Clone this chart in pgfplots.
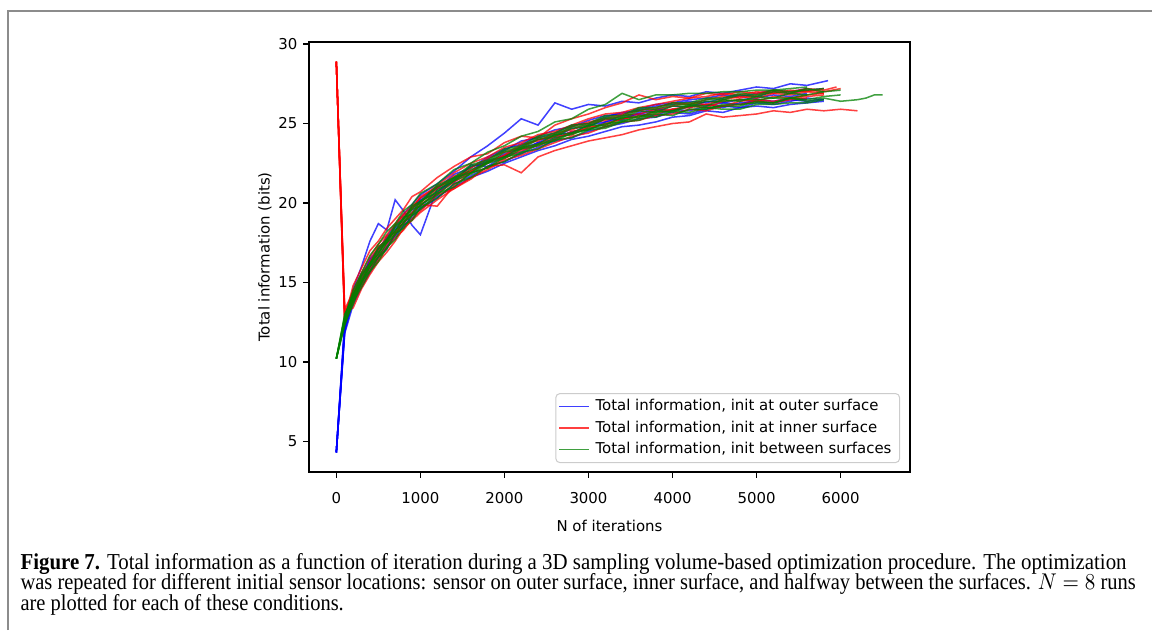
\documentclass[border=0pt]{standalone}
\usepackage{fontspec}
\setmainfont{Liberation Serif}
\newfontfamily\djv{DejaVu Sans}
\usepackage{graphicx}
\usepackage{pgfplots}
\pgfplotsset{compat=1.18}
\definecolor{mblue}{rgb}{0,0,1}
\definecolor{mred}{rgb}{1,0,0}
\definecolor{mgreen}{rgb}{0,0.5,0}
\definecolor{framegray}{gray}{0.55}

\begin{document}
\begin{tikzpicture}
\useasboundingbox (0,0) rectangle (16cm,8.75cm);
\draw[framegray, line width=0.8pt] (0.111,0) -- (0.111,8.597) -- (16,8.597);

\begin{axis}[
  at={(4.2917cm,2.1944cm)}, anchor=south west,
  scale only axis, width=8.347cm, height=5.972cm,
  xmin=-325, xmax=6825, ymin=3.07, ymax=30.13,
  xtick={0,1000,...,6000}, ytick={5,10,...,30},
  tick align=outside, xtick pos=bottom, ytick pos=left,
  major tick length=0.08cm,
  axis line style={line width=0.6pt},
  every tick/.style={black, line width=0.5pt},
  ticklabel style={font=\djv\fontsize{5.9}{7}\selectfont},
  xticklabel style={yshift=-2.2pt},
  yticklabel style={xshift=1.2pt},
  /pgf/number format/assume math mode=true,
  /pgf/number format/set thousands separator={},
  xlabel={N of iterations}, ylabel={Total information (bits)},
  label style={font=\djv\fontsize{5.9}{7}\selectfont},
  xlabel style={at={(axis description cs:0.5,-0.1256)}, anchor=center},
  ylabel style={at={(axis description cs:-0.0732,0.5)}, anchor=center},
  every axis plot/.append style={line width=0.6pt, opacity=0.75},
  legend cell align=left,
  legend image code/.code={\draw[#1] (0cm,0cm) -- (0.417cm,0cm);},
  legend style={at={(0.9834,0.0209)}, anchor=south east,
    draw=black!20, rounded corners=1.5pt, fill=white, fill opacity=0.8, text opacity=1,
    font=\djv\fontsize{5.9}{7}\selectfont, inner sep=1pt, row sep=0.3pt,
    nodes={inner xsep=2.2pt, inner ysep=1pt, text height=4.8pt, text depth=1.4pt}},
]
% init at outer surface
\addplot[mblue] coordinates {(0,4.3)(100,12.2)(200,14.6)(300,16.0)(400,17.6)(500,18.7)(600,18.3)(700,20.2)(800,19.5)(900,18.6)(1000,18.0)(1200,20.9)(1400,21.3)(1600,22.4)(1800,22.3)(2000,23.0)(2200,23.2)(2400,23.8)(2600,24.0)(2800,24.5)(3000,24.6)(3200,25.1)(3400,25.3)(3600,25.6)(3800,25.5)(4000,25.9)(4200,25.8)(4400,26.1)(4600,26.3)(4800,26.2)(5000,26.5)(5200,26.4)(5400,26.6)(5600,26.5)};
\addlegendentry{Total information, init at outer surface}
\addplot[mblue, forget plot] coordinates {(0,4.3)(100,12.0)(200,14.3)(300,15.4)(400,16.4)(500,17.0)(600,17.9)(700,18.6)(800,19.3)(900,19.9)(1000,20.5)(1200,21.2)(1400,22.0)(1600,22.9)(1800,23.6)(2000,24.4)(2200,25.3)(2400,24.9)(2600,26.3)(2800,25.9)(3000,26.2)(3200,26.1)(3400,26.4)(3600,26.3)(3800,26.6)(4000,26.8)(4200,26.7)(4400,27.0)(4600,26.9)(4800,27.1)(5000,27.3)(5200,27.2)(5400,27.5)(5600,27.4)(5850,27.7)};
\addplot[mblue, forget plot] coordinates {(0,4.3)(100,11.8)(200,13.6)(300,14.7)(400,15.6)(500,16.5)(600,17.1)(700,18.0)(800,18.5)(900,19.2)(1000,19.6)(1200,20.3)(1400,21.2)(1600,21.7)(1800,22.3)(2000,22.6)(2200,23.1)(2400,23.5)(2600,23.9)(2800,24.1)(3000,24.5)(3200,24.8)(3400,25.0)(3600,25.3)(3800,25.4)(4000,25.7)(4200,25.6)(4400,25.9)(4600,26.1)(4800,26.0)(5000,26.3)(5200,26.2)(5400,26.4)(5600,26.6)(5800,26.5)};
\addplot[mblue, forget plot] coordinates {(0,4.3)(100,12.4)(200,14.0)(300,15.3)(400,16.3)(500,16.8)(600,17.8)(700,18.2)(800,19.1)(900,19.6)(1000,20.3)(1200,20.9)(1400,21.8)(1600,22.2)(1800,22.9)(2000,23.4)(2200,23.7)(2400,24.2)(2600,24.6)(2800,24.8)(3000,25.2)(3200,25.5)(3400,25.6)(3600,25.9)(3800,26.2)(4000,26.3)(4200,26.5)(4400,26.6)(4600,26.8)(4800,26.7)(5000,26.9)(5200,27.1)(5400,27.0)(5600,27.2)};
\addplot[mblue, forget plot] coordinates {(0,4.3)(100,12.1)(200,13.8)(300,14.9)(400,15.8)(500,16.6)(600,17.2)(700,17.9)(800,18.6)(900,19.0)(1000,19.7)(1200,20.4)(1400,21.0)(1600,21.6)(1800,22.0)(2000,22.5)(2200,22.9)(2400,23.3)(2600,23.6)(2800,24.0)(3000,24.2)(3200,24.5)(3400,24.8)(3600,24.9)(3800,25.1)(4000,25.4)(4200,25.5)(4400,25.8)(4600,25.7)(4800,26.0)(5000,26.1)(5200,26.0)(5400,26.2)(5600,26.3)(5800,26.4)};
\addplot[mblue, forget plot] coordinates {(0,4.3)(100,12.6)(200,14.4)(300,15.6)(400,16.2)(500,17.2)(600,17.7)(700,18.5)(800,19.0)(900,19.8)(1000,20.1)(1200,21.0)(1400,21.6)(1600,22.0)(1800,22.8)(2000,23.3)(2200,23.9)(2400,24.1)(2600,24.4)(2800,24.9)(3000,25.0)(3200,25.4)(3400,25.7)(3600,25.8)(3800,26.1)(4000,26.2)(4200,26.4)(4400,26.3)(4600,26.6)(4800,26.8)(5000,26.7)(5200,27.0)(5400,26.9)(5600,27.1)(5800,27.2)};
\addplot[mblue, forget plot] coordinates {(0,4.3)(100,11.9)(200,13.9)(300,15.0)(400,15.9)(500,16.7)(600,17.3)(700,18.1)(800,18.8)(900,19.3)(1000,19.8)(1200,20.7)(1400,21.4)(1600,22.3)(1800,22.5)(2000,23.1)(2200,23.4)(2400,23.8)(2600,24.3)(2800,24.4)(3000,24.9)(3200,25.1)(3400,25.5)(3600,25.6)(3800,25.8)(4000,26.1)(4200,26.0)(4400,26.4)(4600,26.3)(4800,26.5)(5000,26.6)(5200,26.8)(5400,26.7)(5600,26.9)};
\addplot[mblue, forget plot] coordinates {(0,4.3)(100,12.3)(200,14.2)(300,15.1)(400,16.5)(500,17.1)(600,17.5)(700,18.4)(800,18.7)(900,19.4)(1000,20.2)(1200,20.6)(1400,21.5)(1600,21.9)(1800,22.7)(2000,22.9)(2200,23.6)(2400,24.0)(2600,24.1)(2800,24.7)(3000,24.8)(3200,25.3)(3400,25.2)(3600,25.7)(3800,25.9)(4000,25.8)(4200,26.1)(4400,26.2)(4600,26.0)(4800,26.3)(5000,26.4)(5200,26.3)(5400,26.5)(5600,26.4)(5800,26.5)};
% init at inner surface
\addplot[mred] coordinates {(0,28.9)(100,13.1)(200,13.4)(300,14.6)(400,15.5)(500,16.3)(600,16.9)(700,17.6)(800,18.4)(900,18.9)(1000,19.4)(1200,20.2)(1400,20.9)(1600,21.5)(1800,22.3)(2000,22.4)(2200,21.9)(2400,22.9)(2600,23.3)(2800,23.6)(3000,23.9)(3200,24.1)(3400,24.3)(3600,24.6)(3800,24.8)(4000,25.0)(4200,25.1)(4400,25.6)(4600,25.4)(4800,25.5)(5000,25.6)(5200,25.8)(5400,25.7)(5600,25.9)(5800,25.8)(6000,25.9)(6200,25.8)};
\addlegendentry{Total information, init at inner surface}
\addplot[mred, forget plot] coordinates {(0,28.9)(100,12.8)(200,14.8)(300,15.9)(400,17.0)(500,17.6)(600,18.4)(700,19.0)(800,19.6)(900,20.4)(1000,20.7)(1200,21.6)(1400,22.3)(1600,22.9)(1800,23.1)(2000,23.8)(2200,24.2)(2400,24.1)(2600,24.9)(2800,25.3)(3000,25.6)(3200,26.0)(3400,26.3)(3600,26.8)(3800,26.5)(4000,26.7)(4200,26.6)(4400,26.9)(4600,26.8)(4800,27.0)(5000,26.9)(5200,27.1)(5400,27.0)(5600,27.2)(5800,27.1)(5950,27.3)};
\addplot[mred, forget plot] coordinates {(0,28.9)(100,12.5)(200,13.9)(300,15.3)(400,16.0)(500,16.8)(600,17.7)(700,18.1)(800,18.7)(900,19.3)(1000,19.9)(1200,19.8)(1400,21.1)(1600,21.9)(1800,22.2)(2000,22.8)(2200,23.3)(2400,23.6)(2600,24.0)(2800,24.5)(3000,24.7)(3200,25.0)(3400,25.3)(3600,25.4)(3800,25.8)(4000,25.9)(4200,26.1)(4400,26.0)(4600,26.4)(4800,26.5)(5000,26.4)(5200,26.7)(5400,26.6)(5600,26.8)(5800,26.9)};
\addplot[mred, forget plot] coordinates {(0,28.9)(100,13.3)(200,14.4)(300,15.0)(400,16.3)(500,17.3)(600,17.5)(700,18.6)(800,19.2)(900,19.6)(1000,20.4)(1200,21.0)(1400,21.4)(1600,22.2)(1800,22.8)(2000,23.2)(2200,23.5)(2400,24.0)(2600,24.2)(2800,24.8)(3000,25.1)(3200,25.3)(3400,25.6)(3600,25.8)(3800,26.0)(4000,26.3)(4200,26.2)(4400,26.5)(4600,26.7)(4800,26.6)(5000,26.8)(5200,27.0)(5400,26.9)(5600,27.1)(5800,27.0)(6000,27.2)};
\addplot[mred, forget plot] coordinates {(0,28.9)(100,12.7)(200,13.7)(300,14.8)(400,15.7)(500,16.4)(600,17.2)(700,17.8)(800,18.3)(900,19.0)(1000,19.5)(1200,20.5)(1400,20.9)(1600,21.6)(1800,22.1)(2000,22.7)(2200,23.0)(2400,23.4)(2600,23.8)(2800,24.2)(3000,24.4)(3200,24.8)(3400,25.1)(3600,25.2)(3800,25.5)(4000,25.6)(4200,25.9)(4400,25.8)(4600,26.1)(4800,26.2)(5000,26.4)(5200,26.3)(5400,26.5)(5600,26.6)};
\addplot[mred, forget plot] coordinates {(0,28.9)(100,12.9)(200,14.2)(300,15.5)(400,16.2)(500,17.0)(600,17.9)(700,18.2)(800,19.0)(900,19.7)(1000,20.0)(1200,20.9)(1400,21.7)(1600,22.0)(1800,22.6)(2000,23.0)(2200,23.7)(2400,23.9)(2600,24.4)(2800,24.6)(3000,25.0)(3200,25.2)(3400,25.5)(3600,25.6)(3800,25.9)(4000,26.1)(4200,26.3)(4400,26.2)(4600,26.5)(4800,26.7)(5000,26.6)(5200,26.9)(5400,26.8)(5600,27.0)(5800,26.9)};
\addplot[mred, forget plot] coordinates {(0,28.9)(100,12.4)(200,14.0)(300,15.1)(400,15.9)(500,16.6)(600,17.4)(700,18.0)(800,18.8)(900,19.4)(1000,19.9)(1200,20.6)(1400,21.3)(1600,22.0)(1800,22.5)(2000,23.0)(2200,23.4)(2400,23.7)(2600,24.2)(2800,24.3)(3000,24.8)(3200,24.9)(3400,25.3)(3600,25.5)(3800,25.6)(4000,25.9)(4200,26.0)(4400,26.2)(4600,26.1)(4800,26.4)(5000,26.5)(5200,26.4)(5400,26.6)(5600,26.7)(5800,26.8)};
\addplot[mred, forget plot] coordinates {(0,28.9)(100,13.0)(200,14.5)(300,15.6)(400,16.6)(500,17.4)(600,18.0)(700,18.7)(800,19.3)(900,19.8)(1000,20.3)(1200,21.1)(1400,21.9)(1600,22.5)(1800,22.9)(2000,23.5)(2200,23.8)(2400,24.3)(2600,24.5)(2800,24.9)(3000,25.3)(3200,25.6)(3400,25.7)(3600,26.0)(3800,26.2)(4000,26.4)(4200,26.6)(4400,26.7)(4600,26.9)(4800,26.8)(5000,27.0)(5200,26.9)(5400,27.1)(5600,27.0)(5800,27.2)};
% init between surfaces
\addplot[mgreen] coordinates {(0,10.2)(100,12.7)(200,14.3)(300,15.0)(400,16.2)(500,16.8)(600,17.7)(700,18.2)(800,19.1)(900,19.3)(1000,20.1)(1200,20.7)(1400,21.6)(1600,21.9)(1800,22.6)(2000,22.9)(2200,23.5)(2400,23.7)(2600,24.3)(2800,24.4)(3000,24.9)(3200,24.9)(3400,25.4)(3600,25.4)(3800,25.8)(4000,25.7)(4200,26.1)(4400,26.0)(4600,26.1)(4800,26.1)(5000,26.4)(5200,26.3)(5400,26.6)(5600,26.4)(5800,26.6)(6000,26.4)(6200,26.5)(6300,26.6)(6400,26.8)(6500,26.8)};
\addlegendentry{Total information, init between surfaces}
\addplot[mgreen, forget plot] coordinates {(0,10.2)(100,12.5)(200,13.6)(300,15.1)(400,15.7)(500,16.6)(600,17.1)(700,18.1)(800,18.4)(900,19.2)(1000,19.6)(1200,20.6)(1400,21.0)(1600,21.9)(1800,22.2)(2000,22.9)(2200,23.1)(2400,23.7)(2600,23.9)(2800,24.4)(3000,24.6)(3200,25.0)(3400,25.1)(3600,25.5)(3800,25.4)(4000,25.8)(4200,25.7)(4400,26.0)(4600,25.9)(4800,25.9)(5000,26.2)(5200,26.2)(5400,26.3)(5600,26.3)(5800,26.5)};
\addplot[mgreen, forget plot] coordinates {(0,10.2)(100,12.9)(200,14.2)(300,15.5)(400,16.2)(500,17.2)(600,17.7)(700,18.6)(800,19.0)(900,19.8)(1000,20.1)(1200,21.1)(1400,21.6)(1600,22.4)(1800,22.7)(2000,23.4)(2200,23.6)(2400,24.2)(2600,24.4)(2800,24.9)(3000,25.0)(3200,25.5)(3400,25.5)(3600,26.0)(3800,26.0)(4000,26.3)(4200,26.3)(4400,26.6)(4600,26.6)(4800,26.9)(5000,26.8)(5200,27.1)(5400,27.0)(5600,27.1)(5800,27.2)};
\addplot[mgreen, forget plot] coordinates {(0,10.2)(100,12.8)(200,14.5)(300,15.6)(400,16.7)(500,17.4)(600,18.2)(700,18.7)(800,19.5)(900,19.9)(1000,20.6)(1200,21.2)(1400,22.1)(1600,22.5)(1800,23.2)(2000,23.6)(2200,24.2)(2400,24.5)(2600,25.1)(2800,25.3)(3000,25.9)(3200,26.2)(3400,26.9)(3600,26.5)(3800,26.8)(4000,26.8)(4200,26.9)(4400,26.9)(4600,27.0)(4800,27.0)(5000,27.1)(5200,27.1)(5400,27.2)(5600,27.3)};
\addplot[mgreen, forget plot] coordinates {(0,10.2)(100,12.4)(200,14.0)(300,14.9)(400,16.0)(500,16.6)(600,17.5)(700,18.0)(800,18.8)(900,19.2)(1000,19.9)(1200,20.5)(1400,21.4)(1600,21.8)(1800,22.5)(2000,22.8)(2200,23.4)(2400,23.6)(2600,24.1)(2800,24.3)(3000,24.7)(3200,24.8)(3400,25.2)(3600,25.3)(3800,25.7)(4000,25.8)(4200,26.2)(4400,26.1)(4600,26.5)(4800,26.4)(5000,26.7)(5200,26.6)(5400,26.9)(5600,26.8)(5800,27.0)};
\addplot[mgreen, forget plot] coordinates {(0,10.2)(100,13.0)(200,14.1)(300,15.4)(400,16.1)(500,17.1)(600,17.6)(700,18.5)(800,18.9)(900,19.7)(1000,20.0)(1200,21.0)(1400,21.5)(1600,22.3)(1800,22.6)(2000,23.3)(2200,23.5)(2400,24.1)(2600,24.3)(2800,24.8)(3000,24.9)(3200,25.4)(3400,25.4)(3600,25.9)(3800,25.9)(4000,26.2)(4200,26.2)(4400,26.5)(4600,26.5)(4800,26.8)(5000,26.7)(5200,27.0)(5400,26.9)(5600,27.2)(5800,27.0)(6000,27.1)};
\addplot[mgreen, forget plot] coordinates {(0,10.2)(100,12.6)(200,13.9)(300,15.2)(400,16.0)(500,16.9)(600,17.5)(700,18.3)(800,18.7)(900,19.6)(1000,19.8)(1200,20.8)(1400,21.4)(1600,22.1)(1800,22.5)(2000,23.2)(2200,23.4)(2400,24.0)(2600,24.2)(2800,24.7)(3000,24.8)(3200,25.3)(3400,25.3)(3600,25.8)(3800,25.7)(4000,26.1)(4200,26.1)(4400,26.4)(4600,26.4)(4800,26.5)(5000,26.5)(5200,26.6)(5400,26.6)(5600,26.8)};
\addplot[mgreen, forget plot] coordinates {(0,10.2)(100,12.3)(200,13.8)(300,14.7)(400,15.7)(500,16.3)(600,17.2)(700,17.7)(800,18.6)(900,18.9)(1000,19.7)(1200,20.3)(1400,21.2)(1600,21.6)(1800,22.3)(2000,22.6)(2200,23.2)(2400,23.4)(2600,24.0)(2800,24.1)(3000,24.6)(3200,24.7)(3400,25.1)(3600,25.2)(3800,25.6)(4000,25.5)(4200,25.9)(4400,25.9)(4600,26.2)(4800,26.2)(5000,26.3)(5200,26.3)(5400,26.6)(5600,26.5)(5800,26.7)(6000,26.8)};
\end{axis}

\node[anchor=base west, inner sep=0] at (0.278cm,0.847cm) {\resizebox{15.36cm}{\height}{\fontsize{9}{10}\selectfont\textbf{Figure 7.} Total information as a function of iteration during a 3D sampling volume-based optimization procedure. The optimization}};
\node[anchor=base west, inner sep=0] at (0.278cm,0.556cm) {\resizebox{15.49cm}{\height}{\fontsize{9}{10}\selectfont was repeated for different initial sensor locations: sensor on outer surface, inner surface, and halfway between the surfaces. $N = 8$ runs}};
\node[anchor=base west, inner sep=0] at (0.278cm,0.264cm) {\resizebox{4.49cm}{\height}{\fontsize{9}{10}\selectfont are plotted for each of these conditions.}};
\end{tikzpicture}
\end{document}
